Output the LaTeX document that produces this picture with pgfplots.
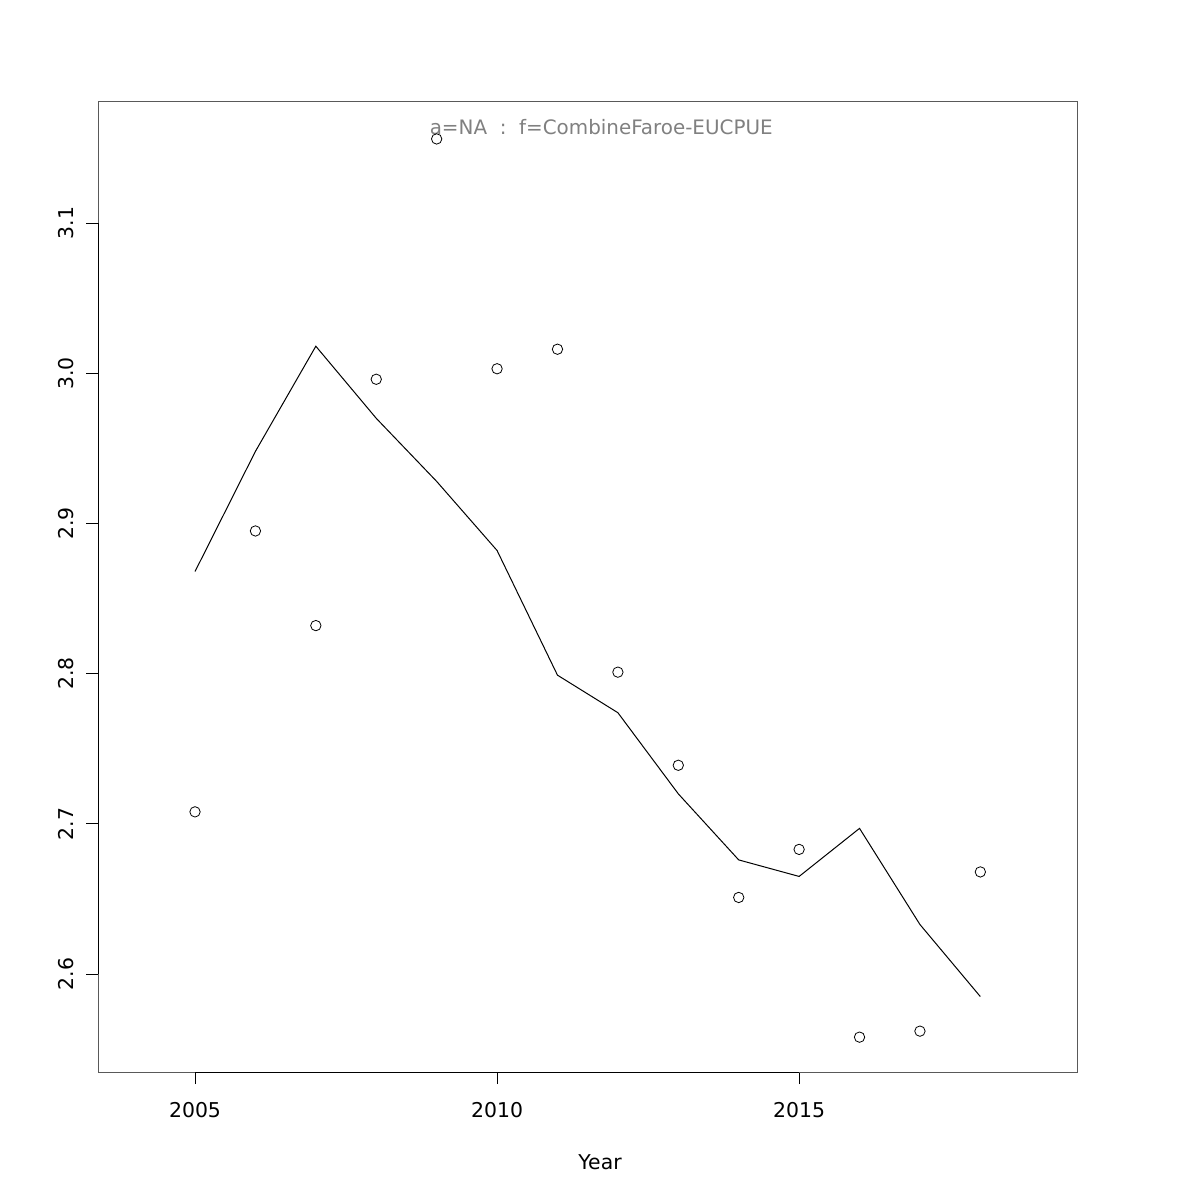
\documentclass[border=0pt]{standalone}
\usepackage{pgfplots}
\pgfplotsset{compat=1.18}
\usepackage{fontspec}
\setmainfont{DejaVu Sans}

\begin{document}
\begin{tikzpicture}[x=1pt,y=1pt]
% page: 1200 px = 600 pt
\useasboundingbox (0,0) rectangle (600,600);
\begin{axis}[
    name=main,
    at={(49pt,64pt)}, anchor=south west,
    scale only axis,
    width=489.5pt, height=485pt,
    xmin=2003.394, xmax=2019.60,
    ymin=2.5348, ymax=3.1806,
    xtick={2005,2010,2015},
    ytick={2.6,2.7,2.8,2.9,3.0,3.1},
    xticklabels={2005,2010,2015},
    yticklabels={2.6,2.7,2.8,2.9,3.0,3.1},
    xtick pos=left, ytick pos=left,
    tick align=outside,
    major tick length=6pt,
    every tick/.style={black, line width=0.5pt},
    axis line style={black!65, line width=0.5pt},
    tick label style={font=\fontsize{10.2}{12}\selectfont},
    xticklabel style={anchor=center, yshift=-13pt},
    yticklabel style={xshift=-10pt, rotate=90, anchor=center},
    xlabel={Year},
    xlabel style={font=\fontsize{10.2}{12}\selectfont, at={(axis description cs:0.5128,0)}, anchor=center, yshift=-45pt},
    clip=false,
]
\addplot[black, line width=0.5pt] coordinates {
    (2005,2.868) (2006,2.948) (2007,3.018) (2008,2.970) (2009,2.928)
    (2010,2.882) (2011,2.799) (2012,2.774) (2013,2.720) (2014,2.676)
    (2015,2.665) (2016,2.697) (2017,2.633) (2018,2.585)
};
\addplot[only marks, mark=o, mark size=2.6pt, mark options={black, line width=0.4pt}] coordinates {
    (2005,2.708) (2006,2.895) (2007,2.832) (2008,2.996) (2009,3.156)
    (2010,3.003) (2011,3.016) (2012,2.801) (2013,2.739) (2014,2.651)
    (2015,2.683) (2016,2.558) (2017,2.562) (2018,2.668)
};
% axis lines over the tick range, as R draws them
\draw[black, line width=0.5pt] (axis cs:2005,2.5348) -- (axis cs:2015,2.5348);
\draw[black, line width=0.5pt] (axis cs:2003.394,2.6) -- (axis cs:2003.394,3.1);
\node[text=black!50, font=\fontsize{9.95}{12}\selectfont] at (axis description cs:0.514,0.974) {a=NA\ \ :\ \ f=CombineFaroe-EUCPUE};
\end{axis}
\end{tikzpicture}
\end{document}
